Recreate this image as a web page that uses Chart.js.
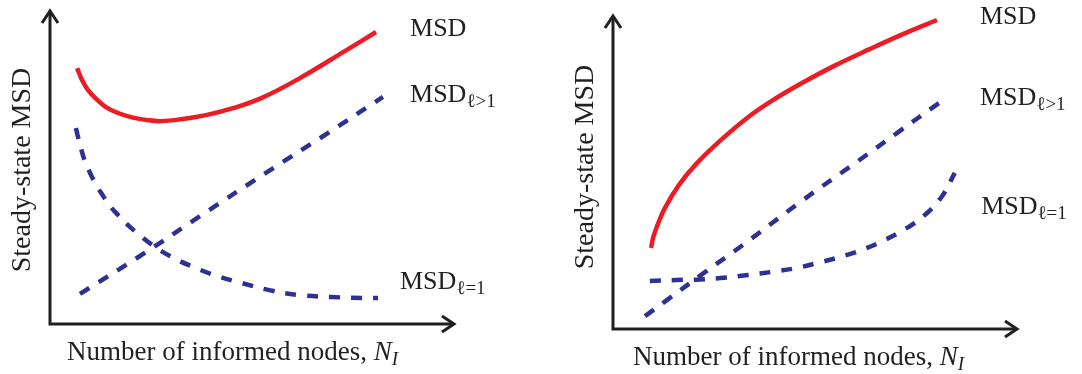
<!DOCTYPE html>
<html>
<head>
<meta charset="utf-8">
<script src="https://cdn.jsdelivr.net/npm/chart.js@4"></script>
<style>
  body { margin: 0; background: #fff; }
  .panel { position: absolute; top: 0; width: 519px; height: 374px; }
</style>
</head>
<body>
<div class="panel" style="left:0"><canvas id="leftChart"></canvas></div>
<div class="panel" style="left:563px"><canvas id="rightChart"></canvas></div>
<script>
// Left panel: total MSD has an interior minimum in N_I
const leftMsdX = [0.67, 0.79, 0.94, 1.14, 1.38, 1.68, 2.02, 2.37, 2.72, 3.28, 3.88, 4.54, 5.23, 6.17, 7.28, 8.05];
const leftMsdY = [8.15, 7.77, 7.45, 7.17, 6.91, 6.72, 6.58, 6.50, 6.46, 6.53, 6.66, 6.88, 7.20, 7.83, 8.69, 9.30];
const leftAboveX = [0.74, 2.30, 3.78, 5.33, 6.86, 8.22];
const leftAboveY = [0.96, 2.23, 3.50, 4.81, 6.08, 7.23];
const leftOneX = [0.64, 0.69, 0.77, 0.86, 0.99, 1.14, 1.31, 1.48, 1.68, 1.90, 2.12, 2.52, 3.01, 3.53, 4.12, 4.72, 5.41, 6.17, 6.94, 7.70, 8.10];
const leftOneY = [6.24, 5.96, 5.57, 5.19, 4.81, 4.43, 4.08, 3.76, 3.47, 3.18, 2.93, 2.52, 2.13, 1.82, 1.53, 1.31, 1.08, 0.92, 0.86, 0.83, 0.83];

// Right panel: total MSD grows monotonically
const rightMsdX = [0.94, 0.99, 1.09, 1.28, 1.63, 2.05, 2.64, 3.28, 3.88, 4.62, 5.46, 6.35, 7.16, 8.00];
const rightMsdY = [2.58, 2.90, 3.28, 3.85, 4.59, 5.25, 5.99, 6.69, 7.23, 7.80, 8.38, 8.92, 9.39, 9.84];
const rightAboveX = [0.79, 1.33, 2.27, 3.21, 4.62, 6.05, 7.01, 8.05];
const rightAboveY = [0.41, 0.92, 1.81, 2.68, 4.04, 5.35, 6.24, 7.20];
const rightOneX = [0.91, 1.58, 2.15, 2.72, 3.33, 3.93, 4.52, 5.04, 5.60, 6.15, 6.67, 7.21, 7.70, 8.12, 8.44];
const rightOneY = [1.53, 1.56, 1.58, 1.63, 1.72, 1.82, 1.94, 2.10, 2.29, 2.52, 2.81, 3.18, 3.63, 4.22, 4.97];

// Curve names: main text + subscript
const seriesNames = [['MSD', ''], ['MSD', '\u2113>1'], ['MSD', '\u2113=1']];
const xTitle = 'Number of informed nodes, ';
const yTitle = 'Steady-state MSD';

const INK = '#231f20';
const RED = '#ed1c24';
const BLUE = '#2e3192';
const SERIF = "'Liberation Serif', 'Times New Roman', serif";

const toPoints = (xs, ys) => xs.map((x, i) => ({ x: x, y: ys[i] }));

// Arrowed axes, axis titles and curve labels
const schematicPlugin = {
    id: 'schematic',
    beforeDatasetsDraw(chart, args, opts) {
        const ctx = chart.ctx;
        const a = chart.chartArea;
        ctx.save();
        ctx.strokeStyle = INK;
        ctx.lineWidth = 3;
        ctx.lineJoin = 'miter';
        ctx.beginPath();
        ctx.moveTo(a.left, a.top + 1);
        ctx.lineTo(a.left, a.bottom);
        ctx.lineTo(a.right - 1, a.bottom);
        ctx.stroke();
        // arrow heads
        ctx.beginPath();
        ctx.moveTo(a.left - 8, a.top + 13);
        ctx.lineTo(a.left, a.top + 1);
        ctx.lineTo(a.left + 8, a.top + 13);
        ctx.moveTo(a.right - 13, a.bottom - 8);
        ctx.lineTo(a.right - 1, a.bottom);
        ctx.lineTo(a.right - 13, a.bottom + 8);
        ctx.stroke();
        ctx.restore();
    },
    afterDraw(chart, args, opts) {
        const ctx = chart.ctx;
        const a = chart.chartArea;
        const sx = chart.scales.x, sy = chart.scales.y;
        ctx.save();
        ctx.fillStyle = INK;
        ctx.textBaseline = 'alphabetic';
        ctx.textAlign = 'left';

        // x title with italic N_I
        let x = a.left + opts.xTitleDx;
        const yb = a.bottom + 36;
        ctx.font = '27px ' + SERIF;
        ctx.fillText(xTitle, x, yb);
        x += ctx.measureText(xTitle).width;
        ctx.font = 'italic 27px ' + SERIF;
        ctx.fillText('N', x, yb);
        x += ctx.measureText('N').width;
        ctx.font = 'italic 19px ' + SERIF;
        ctx.fillText('I', x, yb + 5);

        // y title, rotated
        ctx.save();
        ctx.translate(a.left - 20, (a.top + a.bottom) / 2 + opts.yTitleDy);
        ctx.rotate(-Math.PI / 2);
        ctx.textAlign = 'center';
        ctx.font = '28px ' + SERIF;
        ctx.fillText(yTitle, 0, 0);
        ctx.restore();

        // curve labels
        opts.labels.forEach((lbl, i) => {
            const px = sx.getPixelForValue(lbl[0]);
            const py = sy.getPixelForValue(lbl[1]);
            ctx.font = '26px ' + SERIF;
            ctx.fillText(seriesNames[i][0], px, py);
            if (seriesNames[i][1]) {
                const w = ctx.measureText(seriesNames[i][0]).width;
                ctx.font = '19px ' + SERIF;
                ctx.fillText(seriesNames[i][1], px + w, py + 5);
            }
        });
        ctx.restore();
    }
};

const makeChart = (id, msd, above, one, pad, plugOpts) => {
    const lineBase = {
        pointRadius: 0,
        borderWidth: 4.5,
        borderCapStyle: 'butt',
        tension: 0.4,
        fill: false
    };
    return new Chart(document.getElementById(id), {
        type: 'line',
        data: {
            datasets: [
                Object.assign({ data: msd, borderColor: RED }, lineBase),
                Object.assign({ data: above, borderColor: BLUE, borderDash: [11, 11] }, lineBase),
                Object.assign({ data: one, borderColor: BLUE, borderDash: [11, 11] }, lineBase)
            ]
        },
        options: {
            responsive: true,
            maintainAspectRatio: false,
            animation: false,
            layout: { padding: pad },
            scales: {
                x: { type: 'linear', min: 0, max: 10, display: false },
                y: { type: 'linear', min: 0, max: 10, display: false }
            },
            plugins: {
                legend: { display: false },
                tooltip: { enabled: false },
                schematic: plugOpts
            }
        },
        plugins: [schematicPlugin]
    });
};

makeChart('leftChart',
    toPoints(leftMsdX, leftMsdY),
    toPoints(leftAboveX, leftAboveY),
    toPoints(leftOneX, leftOneY),
    { left: 50, right: 64, top: 10, bottom: 50 },
    { xTitleDx: 17, yTitleDy: 3, labels: [[8.89, 9.17], [8.89, 7.07], [8.64, 1.11]] });

makeChart('rightChart',
    toPoints(rightMsdX, rightMsdY),
    toPoints(rightAboveX, rightAboveY),
    toPoints(rightOneX, rightOneY),
    { left: 50, right: 64, top: 15, bottom: 45 },
    { xTitleDx: 20, yTitleDy: -5, labels: [[9.06, 9.71], [9.06, 7.13], [9.09, 3.66]] });
</script>
</body>
</html>
